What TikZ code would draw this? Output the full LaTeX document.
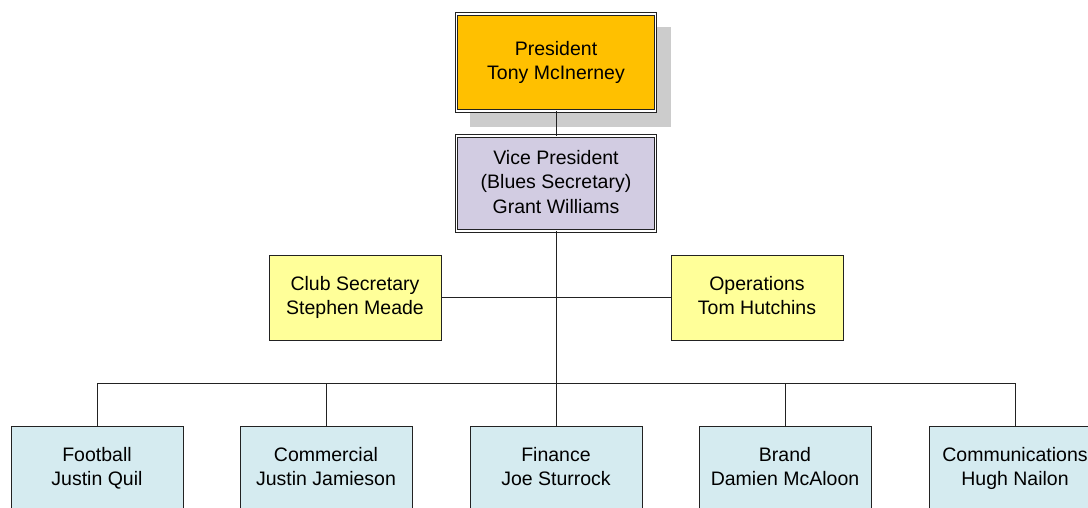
\documentclass[tikz,border=0pt]{standalone}
\usepackage{fontspec}
\setmainfont{Liberation Sans}
\definecolor{presfill}{HTML}{FFC000}
\definecolor{vpfill}{HTML}{D2CCE2}
\definecolor{yelfill}{HTML}{FFFF99}
\definecolor{cyanfill}{HTML}{D5EBF0}
\definecolor{shadowgray}{HTML}{CCCCCC}
\definecolor{linegray}{HTML}{222222}
\begin{document}
\begin{tikzpicture}[x=1pt,y=-1pt,
  box/.style={draw=linegray, line width=0.9pt, align=center,
    font=\fontsize{19.5}{24.5}\selectfont, inner sep=0pt,
    execute at begin node={\rule{0pt}{21pt}}, execute at end node={\rule[-4pt]{0pt}{1pt}},
    minimum width=172pt, minimum height=85pt},
  dbox/.style={box, double, double distance=1.6pt, line width=0.8pt,
    minimum width=199pt},
  conn/.style={draw=linegray, line width=0.9pt}]
\useasboundingbox (0,0) rectangle (1088,508);
\clip (0,0) rectangle (1088,508);
\fill[shadowgray] (470,27) rectangle (671,127);
\node[dbox, fill=presfill, minimum height=97pt] (pres) at (556,62.5) {President\\Tony McInerney};
\node[dbox, fill=vpfill, minimum height=95pt] (vp) at (556,183.5) {Vice President\\(Blues Secretary)\\Grant Williams};
\node[box, fill=yelfill] (club) at (355,297.5) {Club Secretary\\Stephen Meade};
\node[box, fill=yelfill] (ops) at (757,297.5) {Operations\\Tom Hutchins};
\node[box, fill=cyanfill] (foot) at (97,468.5) {Football\\Justin Quil};
\node[box, fill=cyanfill] (comm) at (326,468.5) {Commercial\\Justin Jamieson};
\node[box, fill=cyanfill] (fin) at (556,468.5) {Finance\\Joe Sturrock};
\node[box, fill=cyanfill] (brand) at (785,468.5) {Brand\\Damien McAloon};
\node[box, fill=cyanfill] (comms) at (1015,468.5) {Communications\\Hugh Nailon};
\coordinate (bus) at (556,383);
\path[conn] (pres.south) -- (vp.north);
\path[conn] (vp.south) -- (bus);
\path[conn] (club.east) -- (ops.west);
\path[conn] (foot.north) |- (bus);
\path[conn] (comm.north) |- (bus);
\path[conn] (fin.north) -- (bus);
\path[conn] (brand.north) |- (bus);
\path[conn] (comms.north) |- (bus);
\end{tikzpicture}
\end{document}
